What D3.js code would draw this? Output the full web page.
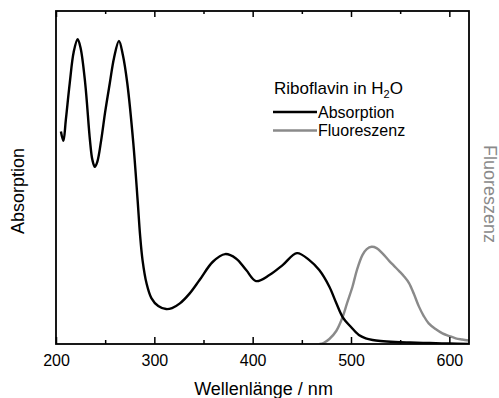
<!DOCTYPE html>
<html>
<head>
<meta charset="utf-8">
<script src="https://cdn.jsdelivr.net/npm/d3@7/dist/d3.min.js"></script>
<style>
  html, body { margin: 0; padding: 0; background: #fff; }
  svg { display: block; font-family: "Liberation Sans", Arial, Helvetica, sans-serif; }
</style>
</head>
<body>
<svg id="chart" width="499" height="398"></svg>
<script>
// Riboflavin in water: absorption spectrum (nm, relative absorbance)
const absWavelength = [205, 207.5, 210, 214, 218, 222, 225, 229.7, 234.5, 237, 239.5, 242, 246, 250,
  254.7, 259, 264, 268, 272.5, 278.6, 283, 285.5, 288, 292, 297, 304, 312, 318, 326, 336, 346,
  359.5, 372, 383, 393.4, 403.5, 417, 430.5, 445, 457.6, 467.7, 478, 485, 491.5, 500, 508, 515,
  522, 530, 545, 560, 580, 600, 620];
const absValue = [0.638, 0.610, 0.673, 0.784, 0.877, 0.915, 0.889, 0.783, 0.613, 0.553, 0.532, 0.547, 0.613, 0.697,
  0.783, 0.859, 0.910, 0.868, 0.783, 0.604, 0.432, 0.327, 0.252, 0.183, 0.138, 0.114, 0.105, 0.108, 0.122, 0.152, 0.192,
  0.247, 0.270, 0.257, 0.222, 0.189, 0.207, 0.237, 0.273, 0.252, 0.222, 0.172, 0.123, 0.081, 0.051, 0.027, 0.017,
  0.012, 0.009, 0.006, 0.0045, 0.003, 0.0015, 0.0005];

// Fluorescence emission spectrum (nm, relative intensity)
const fluoWavelength = [468, 472, 478, 485, 491.5, 496, 501.5, 506, 511.6, 516, 521, 526, 532, 539, 544,
  549, 554, 559, 564, 569, 574, 579, 586, 593, 600, 606.5, 613, 620];
const fluoValue = [0.0, 0.003, 0.015, 0.039, 0.081, 0.123, 0.172, 0.222, 0.267, 0.285, 0.292, 0.288, 0.272, 0.249, 0.234,
  0.219, 0.203, 0.183, 0.150, 0.113, 0.084, 0.062, 0.045, 0.032, 0.024, 0.017, 0.0135, 0.0105];

const majorTicks = [200, 300, 400, 500, 600];
const minorTicks = [250, 350, 450, 550];

const svg = d3.select("#chart");
const frame = { left: 56, right: 469, top: 11, bottom: 344 };

const x = d3.scaleLinear().domain([200, 620]).range([frame.left, frame.right]);
const y = d3.scaleLinear().domain([0, 1]).range([frame.bottom, frame.top]);

const plot = svg.append("g");
plot.append("clipPath").attr("id", "clip")
  .append("rect").attr("x", frame.left).attr("y", frame.top)
  .attr("width", frame.right - frame.left).attr("height", frame.bottom - frame.top);

// Spectra
const line = d3.line().x(d => x(d[0])).y(d => y(d[1])).curve(d3.curveCatmullRom.alpha(0.5));

plot.append("path")
  .datum(fluoWavelength.map((w, i) => [w, fluoValue[i]]))
  .attr("clip-path", "url(#clip)")
  .attr("fill", "none").attr("stroke", "#8a8a8a").attr("stroke-width", 2.4)
  .attr("d", line);

plot.append("path")
  .datum(absWavelength.map((w, i) => [w, absValue[i]]))
  .attr("clip-path", "url(#clip)")
  .attr("fill", "none").attr("stroke", "#000").attr("stroke-width", 2.4)
  .attr("d", line);

// Axes: ticks point inwards
const axisStyle = g => {
  g.select(".domain").remove();
  g.selectAll(".tick line").attr("stroke", "#000").attr("stroke-width", 1.5);
};

svg.append("g").attr("transform", `translate(0,${frame.bottom})`)
  .call(d3.axisBottom(x).tickValues(majorTicks).tickSize(-7).tickPadding(11).tickFormat(d3.format("d")))
  .call(axisStyle)
  .call(g => g.selectAll(".tick text").attr("font-size", 16).attr("fill", "#000")
    .attr("font-family", "Liberation Sans, Arial, sans-serif"));

svg.append("g").attr("transform", `translate(0,${frame.bottom})`)
  .call(d3.axisBottom(x).tickValues(minorTicks).tickSize(-4).tickFormat(""))
  .call(axisStyle);

svg.append("g").attr("transform", `translate(0,${frame.top})`)
  .call(d3.axisTop(x).tickValues(majorTicks).tickSize(-6).tickFormat(""))
  .call(axisStyle);

svg.append("g").attr("transform", `translate(0,${frame.top})`)
  .call(d3.axisTop(x).tickValues(minorTicks).tickSize(-3).tickFormat(""))
  .call(axisStyle);

// Frame
svg.append("rect")
  .attr("x", frame.left).attr("y", frame.top)
  .attr("width", frame.right - frame.left).attr("height", frame.bottom - frame.top)
  .attr("fill", "none").attr("stroke", "#000").attr("stroke-width", 1.8);

// Axis titles
svg.append("text")
  .attr("x", (frame.left + frame.right) / 2 + 1).attr("y", 395)
  .attr("text-anchor", "middle").attr("font-size", 18).attr("fill", "#000")
  .text("Wellenlänge / nm");

svg.append("text")
  .attr("transform", "translate(24,191) rotate(-90)")
  .attr("text-anchor", "middle").attr("font-size", 18).attr("fill", "#000")
  .text("Absorption");

svg.append("text")
  .attr("transform", "translate(484,194) rotate(90)")
  .attr("text-anchor", "middle").attr("font-size", 18).attr("fill", "#8a8a8a")
  .text("Fluoreszenz");

// Legend
const legend = svg.append("g");
const title = legend.append("text").attr("x", 274).attr("y", 94).attr("font-size", 17).attr("fill", "#000");
title.append("tspan").text("Riboflavin in H");
title.append("tspan").attr("font-size", 11).attr("dy", 4).text("2");
title.append("tspan").attr("dy", -4).text("O");

const entries = [
  { label: "Absorption", color: "#000", y: 112 },
  { label: "Fluoreszenz", color: "#8a8a8a", y: 130.5 }
];
entries.forEach(e => {
  legend.append("line").attr("x1", 273).attr("x2", 317).attr("y1", e.y).attr("y2", e.y)
    .attr("stroke", e.color).attr("stroke-width", 2.4);
  legend.append("text").attr("x", 318).attr("y", e.y + 5.5).attr("font-size", 16).attr("fill", "#000")
    .text(e.label);
});
</script>
</body>
</html>
